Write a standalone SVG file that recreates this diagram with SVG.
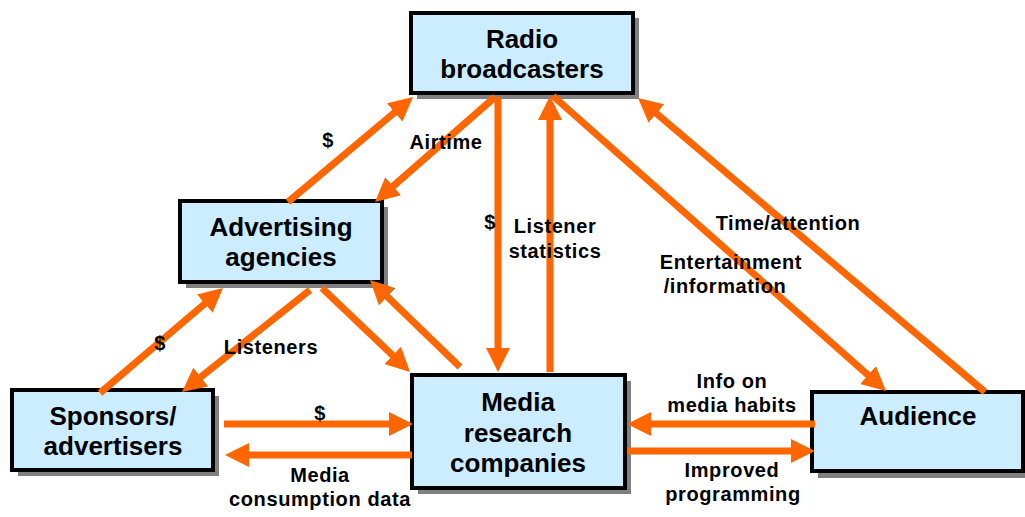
<svg xmlns="http://www.w3.org/2000/svg" width="1025" height="517" viewBox="0 0 1025 517">
<style>
.shadow{fill:#808080}
.box{fill:#CCECFF;stroke:#000;stroke-width:4}
.title{font-family:"Liberation Sans",Arial,sans-serif;font-weight:bold;font-size:26px;fill:#000;text-anchor:middle}
.lbl{font-family:"Liberation Sans",Arial,sans-serif;font-weight:bold;font-size:20px;letter-spacing:0.6px;fill:#000;text-anchor:middle}
.arr{stroke:#FF6600;stroke-width:7;fill:none;marker-end:url(#ah)}
</style>
<defs>
<marker id="ah" markerUnits="userSpaceOnUse" viewBox="0 0 24 24" markerWidth="24" markerHeight="24" refX="2" refY="12" orient="auto">
<path d="M0,0 L24,12 L0,24 z" fill="#FF6600"/>
</marker>
</defs>
<rect width="1025" height="517" fill="#fff"/>
<g id="radio">
<rect class="shadow" x="417" y="18" width="222" height="81"/>
<rect class="box" x="411" y="13" width="222" height="80"/>
<text class="title" x="522" y="48">Radio</text>
<text class="title" x="522" y="78">broadcasters</text>
</g>
<g id="advertising">
<rect class="shadow" x="186" y="207" width="202" height="81"/>
<rect class="box" x="180" y="201" width="202" height="81"/>
<text class="title" x="281" y="236">Advertising</text>
<text class="title" x="281" y="266">agencies</text>
</g>
<g id="sponsors">
<rect class="shadow" x="18" y="396" width="201" height="80"/>
<rect class="box" x="12" y="390" width="201" height="80"/>
<text class="title" x="113" y="425">Sponsors/</text>
<text class="title" x="113" y="455">advertisers</text>
</g>
<g id="media">
<rect class="shadow" x="418" y="381" width="213" height="113"/>
<rect class="box" x="412" y="375" width="213" height="113"/>
<text class="title" x="518" y="411">Media</text>
<text class="title" x="518" y="442">research</text>
<text class="title" x="518" y="472">companies</text>
</g>
<g id="audience">
<rect class="shadow" x="818" y="398" width="211" height="80"/>
<rect class="box" x="812" y="392" width="211" height="79"/>
<text class="title" x="918" y="425">Audience</text>
</g>
<g id="connectors">
<line class="arr" x1="288" y1="202" x2="396.2" y2="111.1"/>
<line class="arr" x1="495" y1="97" x2="391.6" y2="187.5"/>
<line class="arr" x1="498" y1="97" x2="498" y2="350"/>
<line class="arr" x1="550" y1="372" x2="550" y2="118"/>
<line class="arr" x1="553" y1="96" x2="869.5" y2="376.4"/>
<line class="arr" x1="985" y1="392" x2="654.8" y2="112.2"/>
<line class="arr" x1="100" y1="393" x2="206.3" y2="302.3"/>
<line class="arr" x1="310" y1="290" x2="199.2" y2="378.3"/>
<line class="arr" x1="322" y1="288" x2="394.1" y2="356.8"/>
<line class="arr" x1="460" y1="367" x2="385.8" y2="295.3"/>
<line class="arr" x1="224" y1="424" x2="391" y2="424"/>
<line class="arr" x1="412" y1="455" x2="247" y2="455"/>
<line class="arr" x1="815" y1="424" x2="649" y2="424"/>
<line class="arr" x1="627" y1="451" x2="793" y2="451"/>
</g>
<g id="labels">
<text class="lbl" x="328" y="147">$</text>
<text class="lbl" x="446" y="149">Airtime</text>
<text class="lbl" x="490" y="229">$</text>
<text class="lbl" x="555" y="233">Listener</text>
<text class="lbl" x="555" y="258">statistics</text>
<text class="lbl" x="788" y="230">Time/attention</text>
<text class="lbl" x="731" y="269">Entertainment</text>
<text class="lbl" x="725" y="293">/information</text>
<text class="lbl" x="160" y="350">$</text>
<text class="lbl" x="271" y="354">Listeners</text>
<text class="lbl" x="320" y="420">$</text>
<text class="lbl" x="320" y="482">Media</text>
<text class="lbl" x="320" y="506">consumption data</text>
<text class="lbl" x="732" y="388">Info on</text>
<text class="lbl" x="732" y="412">media habits</text>
<text class="lbl" x="732" y="477">Improved</text>
<text class="lbl" x="733" y="501">programming</text>
</g>
</svg>
